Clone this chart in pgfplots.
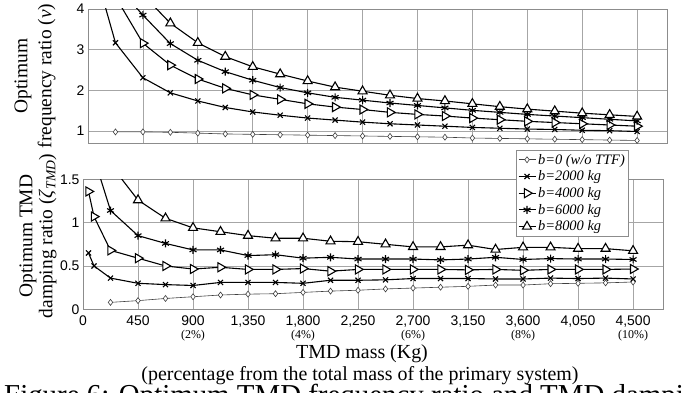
\documentclass[border=0pt]{standalone}
\usepackage{fontspec}
\setmainfont{Liberation Serif}
\setsansfont{Liberation Sans}
\usepackage{pgfplots}
\pgfplotsset{compat=1.18}

\pgfplotstableread{
x     b0    b2    b4    b6    b8
45    nan   7.0   9.0   11    13
90    nan   4.6   6.5   8.0   10
225   0.98  3.17  4.30  4.60  6.0
450   0.98  2.31  3.16  3.85  4.35
675   0.97  1.94  2.62  3.15  3.65
900   0.95  1.74  2.28  2.74  3.17
1125  0.93  1.58  2.05  2.46  2.83
1350  0.92  1.47  1.89  2.25  2.58
1575  0.91  1.39  1.78  2.07  2.40
1800  0.90  1.32  1.67  1.94  2.23
2025  0.89  1.27  1.59  1.83  2.08
2250  0.88  1.22  1.53  1.76  1.98
2475  0.87  1.18  1.46  1.69  1.88
2700  0.86  1.15  1.41  1.63  1.80
2925  0.85  1.12  1.37  1.57  1.74
3150  0.83  1.09  1.32  1.51  1.67
3375  0.82  1.07  1.28  1.46  1.60
3600  0.81  1.05  1.24  1.41  1.54
3825  0.80  1.04  1.21  1.37  1.49
4050  0.79  1.02  1.18  1.33  1.44
4275  0.78  1.01  1.15  1.29  1.40
4500  0.77  0.99  1.12  1.25  1.36
}\freq

\pgfplotstableread{
x     b0     b2     b4     b6     b8
45    nan    0.65   1.36   2.30   3.0
90    nan    0.50   1.07   1.75   2.3
225   0.08   0.36   0.68   1.14   1.67
450   0.10   0.30   0.59   0.85   1.26
675   0.125  0.285  0.50   0.76   1.05
900   0.145  0.275  0.465  0.685  0.94
1125  0.165  0.31   0.485  0.685  0.895
1350  0.175  0.31   0.46   0.62   0.85
1575  0.18   0.31   0.46   0.63   0.82
1800  0.195  0.30   0.47   0.59   0.82
2025  0.21   0.335  0.44   0.60   0.785
2250  0.22   0.335  0.46   0.58   0.78
2475  0.235  0.34   0.46   0.58   0.75
2700  0.245  0.355  0.46   0.58   0.72
2925  0.255  0.355  0.46   0.57   0.72
3150  0.265  0.355  0.455  0.58   0.74
3375  0.28   0.35   0.46   0.60   0.69
3600  0.28   0.35   0.45   0.575  0.715
3825  0.295  0.36   0.46   0.585  0.715
4050  0.30   0.355  0.46   0.58   0.70
4275  0.305  0.36   0.46   0.58   0.70
4500  0.315  0.35   0.465  0.575  0.675
}\damp

\pgfplotsset{
  myax/.style={
    scale only axis, xmin=0, xmax=4745,
    xtick={0,450,...,4500},
    grid=major,
    grid style={black!35, line width=0.7bp},
    axis line style={black!45, line width=0.7bp},
    major tick length=0pt,
    tick label style={font=\sffamily\fontsize{14}{14}\selectfont},
    clip mode=global,
    unbounded coords=jump,
  },
  sb0/.style={color=black!75, line width=0.6bp, mark=diamond*, mark size=3bp,
    mark options={fill=white, draw=black!75, line width=0.6bp}},
  sb2/.style={color=black, line width=1.1bp, mark=x, mark size=3.6bp,
    mark options={line width=1.1bp}},
  sb4/.style={color=black, line width=1.1bp, mark=triangle*, mark size=5.2bp,
    mark options={fill=white, rotate=-90, line width=1.1bp}},
  sb6/.style={color=black, line width=1.1bp, mark=asterisk, mark size=4bp,
    mark options={line width=1.1bp}},
  sb8/.style={color=black, line width=1.1bp, mark=triangle*, mark size=5.2bp,
    mark options={fill=white, line width=1.1bp}},
}
\newcommand{\pc}[1]{{\rmfamily\fontsize{12}{12}\selectfont(#1\%)}}

\begin{document}
\begin{tikzpicture}
\path[use as bounding box] (0bp,0bp) rectangle (684bp,-393bp);

% top axis
\begin{axis}[myax,
  at={(88bp,-143.3bp)}, anchor=south west,
  width=579bp, height=134.3bp,
  ymin=0.7, ymax=4, ytick={1,2,3,4}, yticklabels={1,2,3,4},
  xticklabels={},
]
\addplot[sb0] table[x=x,y=b0] {\freq};
\addplot[sb2] table[x=x,y=b2] {\freq};
\addplot[sb4] table[x=x,y=b4] {\freq};
\addplot[sb6] table[x=x,y=b6] {\freq};
\addplot[sb8] table[x=x,y=b8] {\freq};
\end{axis}

% bottom axis
\begin{axis}[myax,
  at={(83bp,-309.3bp)}, anchor=south west,
  width=580bp, height=130bp,
  ymin=0, ymax=1.5, ytick={0,0.5,1,1.5}, yticklabels={0,0.5,1,1.5},
  xticklabels={0,450,{900\\[-1.5bp]\pc{2}},1{,}350,
    {1{,}800\\[-1.5bp]\pc{4}},2{,}250,
    {2{,}700\\[-1.5bp]\pc{6}},3{,}150,
    {3{,}600\\[-1.5bp]\pc{8}},4{,}050,
    {4{,}500\\[-1.5bp]\pc{10}}},
  xticklabel style={align=center, anchor=north, yshift=-3bp},
  legend style={at={(0.747,1.223)}, anchor=north west,
    font=\itshape\fontsize{14.5}{15}\selectfont,
    draw=black!45, fill=white, inner sep=1.5bp, row sep=1.2bp,
    legend cell align=left},
]
\addplot[sb0] table[x=x,y=b0] {\damp};
\addlegendentry{b=0 (w/o TTF)}
\addplot[sb2] table[x=x,y=b2] {\damp};
\addlegendentry{b=2000 kg}
\addplot[sb4] table[x=x,y=b4] {\damp};
\addlegendentry{b=4000 kg}
\addplot[sb6] table[x=x,y=b6] {\damp};
\addlegendentry{b=6000 kg}
\addplot[sb8] table[x=x,y=b8] {\damp};
\addlegendentry{b=8000 kg}
\end{axis}

% axis titles
\node[rotate=90, align=center, font=\fontsize{19.5}{24}\selectfont]
  at (35bp,-76bp) {Optimum\\frequency ratio (\textit{ν})};
\node[rotate=90, align=center, font=\fontsize{19.5}{20}\selectfont]
  at (38bp,-236bp) {Optimum TMD\\damping ratio (\textit{ζ}\textsubscript{\textit{TMD}})};
\node[font=\fontsize{20}{20}\selectfont, inner sep=1bp] at (362bp,-354bp) {TMD mass (Kg)};
\node[font=\fontsize{20}{20}\selectfont, inner sep=1bp] at (360bp,-375.5bp)
  {(percentage from the total mass of the primary system)};
\node[anchor=base west, font=\fontsize{29}{29}\selectfont, inner sep=0pt] at (4bp,-404bp)
  {Figure 6: Optimum TMD frequency ratio and TMD damping ratio};
\end{tikzpicture}
\end{document}
